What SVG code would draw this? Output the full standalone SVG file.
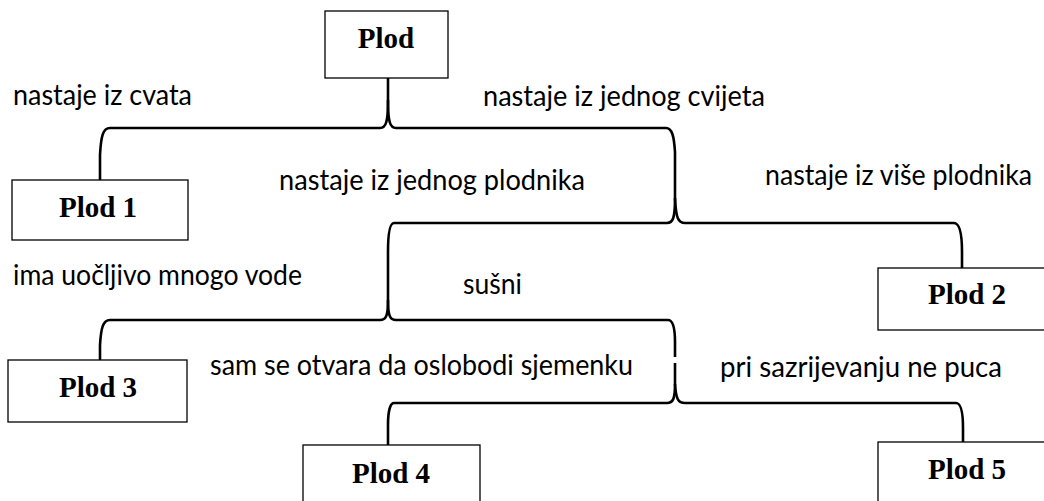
<svg xmlns="http://www.w3.org/2000/svg" width="1044" height="501" viewBox="0 0 1044 501">
<style>
.box{fill:#fff;stroke:#000;stroke-width:1.3}
.bt{font-family:"Liberation Serif","Times New Roman",serif;font-weight:bold;font-size:29px;fill:#000;text-anchor:middle}
.lb{font-family:Lato,"Liberation Sans",sans-serif;font-size:28px;fill:#000}
.con{fill:none;stroke:#000;stroke-width:2.6;stroke-linejoin:round}
</style>
<rect width="1044" height="501" fill="#fff"/>
<g id="connectors">
<path class="con" d="M388,78 L388,100 C388,122 386,128 380,128 L110,128 C103,128 101,136 100,155 L100,180"/>
<path class="con" d="M388,100 C388,122 390,128 396,128 L666,128 C672,128 674,136 675,152 L675,198"/>
<path class="con" d="M675,198 C675,218 673,223 667,223 L394,223 C390,223 388,232 388,252 L388,300"/>
<path class="con" d="M675,198 C676,218 678,223 685,223 L954,223 C960,223 962,235 962,252 L962,268"/>
<path class="con" d="M388,300 C388,316 386,320 380,320 L110,320 C103,320 101,328 100,345 L100,360"/>
<path class="con" d="M388,300 C388,316 390,320 396,320 L668,320 C673,320 675,328 675,342 L675,357"/>
<path class="con" d="M675,363 L675,384"/>
<path class="con" d="M675,384 C675,399 673,403 667,403 L394,403 C390,403 388,412 388,425 L388,445"/>
<path class="con" d="M675,384 C676,399 678,403 685,403 L956,403 C961,403 963,414 963,428 L963,442"/>
</g>
<g id="plod"><rect class="box" x="325" y="11" width="123" height="67"/><text class="bt" x="386" y="48">Plod</text></g>
<g id="plod1"><rect class="box" x="12" y="180" width="176" height="60"/><text class="bt" x="98" y="217">Plod 1</text></g>
<g id="plod2"><rect class="box" x="878" y="268" width="180" height="62"/><text class="bt" x="967" y="304">Plod 2</text></g>
<g id="plod3"><rect class="box" x="8" y="360" width="179" height="62"/><text class="bt" x="98" y="397">Plod 3</text></g>
<g id="plod4"><rect class="box" x="303" y="445" width="177" height="70"/><text class="bt" x="391" y="483">Plod 4</text></g>
<g id="plod5"><rect class="box" x="878" y="442" width="180" height="70"/><text class="bt" x="967" y="479">Plod 5</text></g>
<g id="labels">
<text class="lb" x="13" y="105" textLength="179" lengthAdjust="spacingAndGlyphs">nastaje iz cvata</text>
<text class="lb" x="483" y="106" textLength="282" lengthAdjust="spacingAndGlyphs">nastaje iz jednog cvijeta</text>
<text class="lb" x="279" y="190" textLength="306" lengthAdjust="spacingAndGlyphs">nastaje iz jednog plodnika</text>
<text class="lb" x="765" y="185" textLength="267" lengthAdjust="spacingAndGlyphs">nastaje iz više plodnika</text>
<text class="lb" x="13" y="285" textLength="289" lengthAdjust="spacingAndGlyphs">ima uočljivo mnogo vode</text>
<text class="lb" x="463" y="294" textLength="59" lengthAdjust="spacingAndGlyphs">sušni</text>
<text class="lb" x="210" y="375" textLength="423" lengthAdjust="spacingAndGlyphs">sam se otvara da oslobodi sjemenku</text>
<text class="lb" x="720" y="377" textLength="282" lengthAdjust="spacingAndGlyphs">pri sazrijevanju ne puca</text>
</g>
</svg>
